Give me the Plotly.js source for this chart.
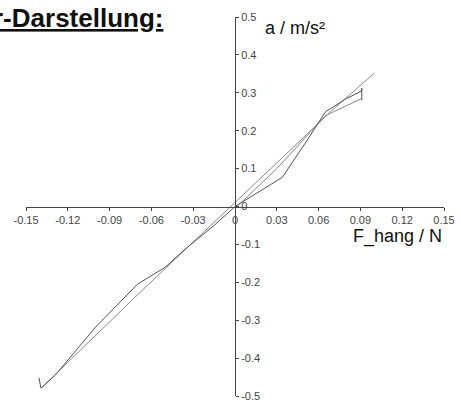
<!DOCTYPE html>
<html>
<head>
<meta charset="utf-8">
<script src="https://cdn.plot.ly/plotly-3.0.1.min.js"></script>
<style>html,body{margin:0;padding:0;background:#fff;}#chart{width:461px;height:405px;}</style>
</head>
<body>
<div id="chart"></div>
<script>
// Data
var loopX = [-0.1407, -0.1393, -0.129, -0.100, -0.070, -0.050, -0.035, -0.015, 0.000, 0.034, 0.050, 0.065, 0.080, 0.091, 0.091, 0.091];
var loopY = [-0.452, -0.479, -0.445, -0.318, -0.205, -0.160, -0.110, -0.050, 0.000, 0.077, 0.165, 0.250, 0.285, 0.305, 0.312, 0.280];
var backX = [0.100, 0.070, 0.030, 0.000, -0.030, -0.070, -0.139];
var backY = [0.352, 0.255, 0.115, 0.010, -0.095, -0.233, -0.479];
var midX = [0.091, 0.065, 0.030, 0.000];
var midY = [0.285, 0.240, 0.100, -0.005];

var xTickVals = [-0.15, -0.12, -0.09, -0.06, -0.03, 0, 0.03, 0.06, 0.09, 0.12, 0.15];
var xTickText = ["-0.15", "-0.12", "-0.09", "-0.06", "-0.03", "0", "0.03", "0.06", "0.09", "0.12", "0.15"];
var yTickVals = [0.5, 0.4, 0.3, 0.2, 0.1, 0, -0.1, -0.2, -0.3, -0.4, -0.5];
var yTickText = ["0.5", "0.4", "0.3", "0.2", "0.1", "0", "-0.1", "-0.2", "-0.3", "-0.4", "-0.5"];

var tickFont = {family: "Liberation Sans, Arial, sans-serif", size: 11, color: "#444"};

var traces = [
  {x: backX, y: backY, mode: "lines", line: {color: "#8a8a8a", width: 1}, hoverinfo: "none"},
  {x: midX, y: midY, mode: "lines", line: {color: "#888", width: 1}, hoverinfo: "none"},
  {x: loopX, y: loopY, mode: "lines", line: {color: "#555", width: 1}, hoverinfo: "none"}
];

var layout = {
  width: 461, height: 405,
  margin: {l: 26, r: 17, t: 17, b: 9},
  paper_bgcolor: "#fff", plot_bgcolor: "#fff",
  showlegend: false,
  xaxis: {
    range: [-0.15, 0.15], anchor: "free", position: 0.5,
    showline: true, linecolor: "#444", linewidth: 1,
    ticks: "outside", ticklen: 3, tickcolor: "#444",
    tickmode: "array", tickvals: xTickVals, ticktext: xTickText,
    tickfont: tickFont, zeroline: false, showgrid: false, fixedrange: true
  },
  xaxis2: {
    range: [-0.15, 0.15], overlaying: "x", anchor: "free", position: 0.5,
    showline: false, ticks: "inside", ticklen: 3, tickcolor: "#444",
    tickmode: "array", tickvals: xTickVals, showticklabels: false,
    zeroline: false, showgrid: false, fixedrange: true
  },
  yaxis: {
    range: [-0.5, 0.5], anchor: "free", position: 0.5, side: "right",
    showline: true, linecolor: "#444", linewidth: 1,
    ticks: "outside", ticklen: 3, tickcolor: "#444",
    tickmode: "array", tickvals: yTickVals, ticktext: yTickText,
    tickfont: tickFont, zeroline: false, showgrid: false, fixedrange: true
  },
  annotations: [
    {text: "<b><u>r-Darstellung:</u></b>", xref: "paper", yref: "paper", x: 0.3325, y: 0.997,
     xanchor: "right", yanchor: "middle", showarrow: false,
     font: {family: "Liberation Sans, Arial, sans-serif", size: 26, color: "#111"}},
    {text: "a / m/s²", xref: "paper", yref: "paper", x: 0.568, y: 0.971,
     xanchor: "left", yanchor: "middle", showarrow: false,
     font: {family: "Liberation Sans, Arial, sans-serif", size: 18, color: "#111"}},
    {text: "F_hang / N", xref: "paper", yref: "paper", x: 1.0, y: 0.42,
     xanchor: "right", yanchor: "middle", showarrow: false,
     font: {family: "Liberation Sans, Arial, sans-serif", size: 18, color: "#111"}}
  ]
};

Plotly.newPlot("chart", traces, layout, {staticPlot: true, displayModeBar: false});
</script>
</body>
</html>
